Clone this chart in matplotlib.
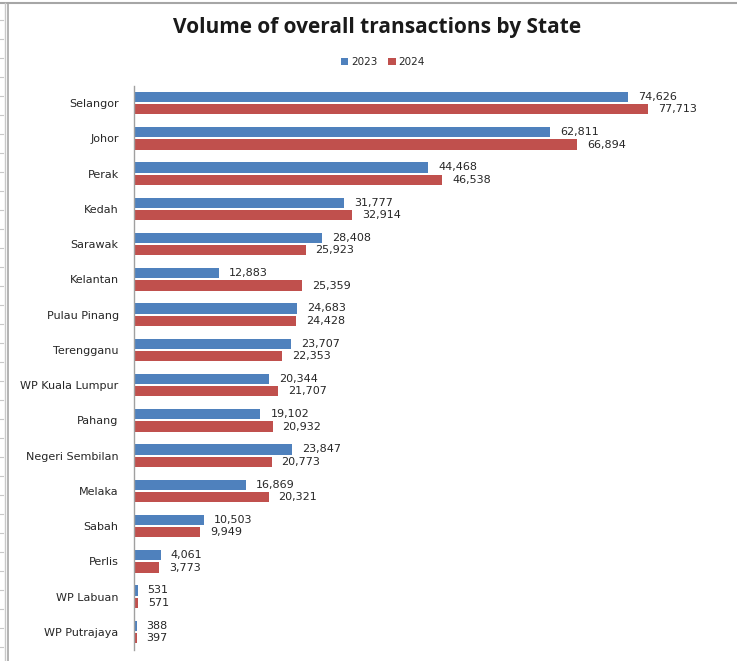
import matplotlib
matplotlib.use("Agg")
import matplotlib.pyplot as plt
from matplotlib.lines import Line2D
import numpy as np

states = ["Selangor", "Johor", "Perak", "Kedah", "Sarawak", "Kelantan", "Pulau Pinang",
          "Terengganu", "WP Kuala Lumpur", "Pahang", "Negeri Sembilan", "Melaka", "Sabah",
          "Perlis", "WP Labuan", "WP Putrajaya"]
v2023 = [74626, 62811, 44468, 31777, 28408, 12883, 24683, 23707, 20344, 19102, 23847,
         16869, 10503, 4061, 531, 388]
v2024 = [77713, 66894, 46538, 32914, 25923, 25359, 24428, 22353, 21707, 20932, 20773,
         20321, 9949, 3773, 571, 397]
series_names = ["2023", "2024"]
colors = ["#4F81BD", "#C0504D"]

W, H = 737, 661
fig = plt.figure(figsize=(W / 100, H / 100), dpi=100)
fig.patch.set_facecolor("white")

# axes placement in pixels
left_px, right_px = 134, 720
top_px, bottom_px = 85.5, 649.5
ax = fig.add_axes([left_px / W, 1 - bottom_px / H, (right_px - left_px) / W, (bottom_px - top_px) / H])

px_per_unit = (628 - 134) / 74626
xmax = (right_px - left_px) / px_per_unit
ax.set_xlim(0, xmax)
n = len(states)
ax.set_ylim(n - 0.5, -0.5)

y = np.arange(n)
bh = 0.29
off = 0.175
ax.barh(y - off, v2023, height=bh, color=colors[0], label=series_names[0])
ax.barh(y + off, v2024, height=bh, color=colors[1], label=series_names[1])

lab_off = 10 / px_per_unit
for yi, v in zip(y - off, v2023):
    ax.text(v + lab_off, yi, f"{v:,}", va="center", ha="left", fontsize=8, color="#262626")
for yi, v in zip(y + off, v2024):
    ax.text(v + lab_off, yi, f"{v:,}", va="center", ha="left", fontsize=8, color="#262626")

ax.set_yticks(y)
ax.set_yticklabels(states, fontsize=8, color="#262626")
ax.tick_params(axis="y", length=0, pad=11)
ax.set_xticks([])
for s in ["top", "right", "bottom"]:
    ax.spines[s].set_visible(False)
ax.spines["left"].set_color("#A0A0A0")
ax.spines["left"].set_linewidth(1.0)

fig.text(377 / W, 1 - 27 / H, "Volume of overall transactions by State", ha="center", va="center",
         fontsize=15, fontweight="bold", family="Open Sans", color="#1a1a1a")

leg = fig.legend(loc="center", bbox_to_anchor=(383 / W, 1 - 62 / H), ncol=2, frameon=False,
                 fontsize=7.5, handlelength=0.7, handleheight=0.7, handletextpad=0.3,
                 columnspacing=1.0)
for t in leg.get_texts():
    t.set_color("#262626")

# outer frame lines (spreadsheet border)
fig.add_artist(Line2D([0, 1], [1 - 3 / H, 1 - 3 / H], color="#A6A6A6", lw=1.5, transform=fig.transFigure))
fig.add_artist(Line2D([5 / W, 5 / W], [0, 1 - 3 / H], color="#C8C8C8", lw=1.0, transform=fig.transFigure))
fig.add_artist(Line2D([8 / W, 8 / W], [0, 1 - 3 / H], color="#A6A6A6", lw=1.2, transform=fig.transFigure))
for yy in range(20, H, 19):
    fig.add_artist(Line2D([0, 3 / W], [1 - yy / H, 1 - yy / H], color="#C8C8C8", lw=0.8, transform=fig.transFigure))

fig.savefig("out.png", dpi=100, facecolor="white")
